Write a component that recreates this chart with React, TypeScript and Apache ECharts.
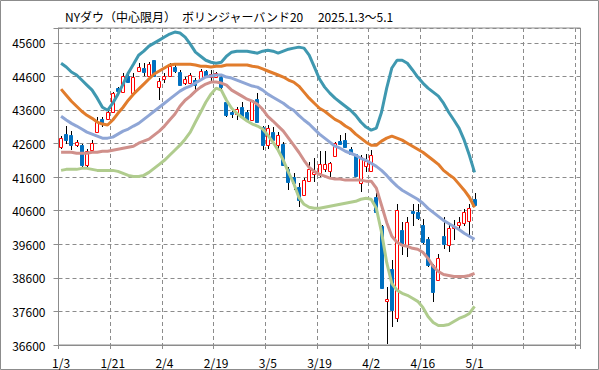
import React, { useEffect, useRef } from 'react';
import * as echarts from 'echarts';

const dates = ['1/3','1/6','1/7','1/8','1/10','1/13','1/14','1/15','1/16','1/17','1/21','1/22','1/23','1/24','1/27','1/28','1/29','1/30','1/31','2/3','2/4','2/5','2/6','2/7','2/10','2/11','2/12','2/13','2/14','2/18','2/19','2/20','2/21','2/24','2/25','2/26','2/27','2/28','3/3','3/4','3/5','3/6','3/7','3/10','3/11','3/12','3/13','3/14','3/17','3/18','3/19','3/20','3/21','3/24','3/25','3/26','3/27','3/28','3/31','4/1','4/2','4/3','4/4','4/7','4/8','4/9','4/10','4/11','4/14','4/15','4/16','4/17','4/21','4/22','4/23','4/24','4/25','4/28','4/29','4/30','5/1'];

const opens = [42510,42870,42840,42570,42550,41950,42400,42950,43320,43320,43540,44240,44140,44610,44090,44770,44840,44610,45080,44290,44510,44610,44870,44740,44410,44410,44490,44510,44760,44580,44590,44590,43840,43540,43490,43690,43540,43290,43940,43080,42550,42950,42550,42600,41850,41600,41310,41060,41490,41680,41710,41830,41780,42220,42680,42700,42450,42280,41430,41930,41780,41010,40130,37900,38870,37410,40010,39570,40590,40560,40180,39770,38970,38540,39840,39570,40070,40160,40240,40290,40940];
const closes = [42750,42700,42550,42650,41950,42370,42610,43240,43200,43540,44090,44170,44610,44440,44590,44870,44740,44960,44610,44470,44610,44910,44770,44340,44510,44640,44340,44760,44590,44670,44690,44290,43440,43490,43640,43390,43290,43890,43240,42550,43050,42700,42840,41950,41460,41410,40910,41510,41850,41740,41980,41980,42020,42620,42600,42500,42300,41630,42200,42080,42250,40560,38310,37980,37630,40630,39570,40260,40530,40390,39670,38970,38180,39200,39620,40070,40130,40260,40560,40690,40760];
const lows = [42450,42600,42400,42490,41900,41890,42340,42930,43100,43290,43530,44140,44090,44390,44040,44740,44610,44590,44590,43910,44390,44590,44710,44320,44340,44390,44110,44490,44540,44400,44550,44190,43390,43350,43290,43350,43240,43270,43210,42400,42450,42550,42400,41920,41210,41210,40710,41040,41460,41460,41600,41750,41600,42200,42580,42460,42250,41600,41160,41750,41750,40540,38280,36620,37130,37280,39270,39220,40130,40310,39620,38920,37880,38520,39470,39370,39720,40010,40130,39840,40740];
const highs = [42820,43110,42970,42700,42600,42430,42700,43380,43390,43590,44140,44290,44690,44740,44690,44990,44990,45030,45100,44540,44690,44990,45000,44790,44590,44690,44550,44810,44790,44790,44730,44600,43890,43590,43690,43840,43590,43910,44090,43120,43150,43100,42950,42650,41900,41710,41410,41570,42050,42160,42370,42370,42050,42650,42850,42900,42490,42300,42250,42300,42420,41120,40160,38320,39120,40810,40260,40410,40810,40810,40360,39820,39020,39300,40410,40190,40310,40410,40660,40810,41130];

const upper2 = [44990,44880,44730,44640,44490,44340,44190,43950,43680,43590,43800,44070,44370,44700,44960,45230,45350,45500,45590,45680,45770,45860,45920,45890,45770,45560,45320,45200,45080,45020,44990,45020,45200,45320,45350,45350,45350,45320,45290,45350,45380,45350,45290,45350,45410,45440,45470,45440,45230,44880,44520,44280,44100,43950,43830,43710,43590,43440,43240,43090,43000,43060,43530,44250,44850,45080,45080,44990,44790,44580,44400,44250,44130,44010,43800,43530,43300,43060,42700,42250,41740];
const upper1 = [44220,44040,43860,43710,43560,43440,43350,43240,43180,43150,43300,43500,43680,43890,44070,44220,44370,44520,44670,44760,44850,44940,44960,44960,44960,44960,44940,44900,44900,44880,44900,44900,44940,44940,44940,44940,44940,44900,44880,44820,44760,44700,44640,44580,44490,44430,44310,44130,43950,43800,43650,43560,43440,43320,43240,43120,43030,42880,42760,42640,42550,42550,42670,42760,42820,42760,42700,42610,42520,42430,42340,42220,42100,41980,41800,41680,41570,41390,41210,41000,40700];
const ma20 = [43410,43300,43200,43120,43030,42940,42880,42820,42760,42760,42790,42880,42970,43030,43120,43200,43320,43440,43560,43680,43800,43920,44040,44160,44250,44310,44400,44490,44580,44610,44640,44640,44580,44550,44490,44430,44370,44310,44280,44190,44070,43980,43890,43800,43680,43590,43440,43300,43180,43030,42880,42760,42640,42520,42460,42370,42310,42250,42160,42100,42010,41920,41800,41650,41480,41330,41210,41120,41030,40940,40820,40670,40550,40430,40310,40220,40130,40040,39930,39840,39750];
const lower1 = [42340,42340,42340,42310,42310,42310,42340,42340,42370,42370,42400,42430,42460,42490,42520,42610,42670,42730,42850,42970,43120,43300,43470,43710,43890,44010,44160,44280,44370,44430,44430,44400,44340,44190,44100,44010,43920,43860,43770,43620,43410,43270,43120,42970,42760,42550,42340,42100,41890,41770,41680,41630,41570,41540,41540,41510,41510,41510,41510,41480,41480,41270,40760,40250,39840,39660,39570,39540,39480,39450,39360,39180,38940,38790,38700,38670,38640,38640,38640,38670,38730];
const lower2 = [41800,41830,41830,41830,41860,41860,41830,41800,41800,41800,41800,41770,41710,41650,41620,41620,41650,41740,41860,41980,42100,42250,42400,42550,42730,42940,43240,43530,43830,44070,44250,44190,43890,43650,43500,43380,43270,43180,43120,43030,42850,42640,42400,42100,41740,41420,41000,40790,40700,40670,40670,40700,40730,40760,40790,40820,40850,40880,40940,40970,40940,40670,39960,39060,38430,38230,38140,38080,37990,37900,37720,37450,37270,37180,37180,37210,37300,37390,37450,37540,37750];

const yMin = 36600;
const yMax = 46040;
const yStep = 1000;
const totalSlots = 101;

const titleText = 'NYダウ（中心限月）　ボリンジャーバンド20　 2025.1.3～5.1';

const FONT = '"Noto Sans CJK JP", "Noto Sans", sans-serif';

export default function App() {
  const ref = useRef<HTMLDivElement>(null);
  useEffect(() => {
    const el = ref.current;
    if (!el) return;
    const chart = echarts.init(el, undefined, { renderer: 'svg' });
    const cats = Array.from({ length: totalSlots }, (_, i) => (i < dates.length ? dates[i] : ''));
    const candleData = dates.map((_, i) => [i, opens[i], closes[i], lows[i], highs[i]]);
    const lineSeries = (name: string, data: number[], color: string) => ({
      name,
      type: 'line',
      data,
      symbol: 'none',
      smooth: false,
      lineStyle: { color, width: 3 },
      z: 3,
    });
    chart.setOption({
      animation: false,
      backgroundColor: '#ffffff',
      textStyle: { fontFamily: FONT },
      graphic: [
        {
          type: 'rect',
          shape: { x: 0.5, y: 0.5, width: 598, height: 369 },
          style: { fill: 'none', stroke: '#8c8c8c', lineWidth: 1 },
          silent: true,
        },
        {
          type: 'text',
          left: 65,
          top: 10,
          style: { text: titleText, fontSize: 12, fontFamily: FONT, fill: '#000' },
        },
      ],
      grid: {
        left: 58.5,
        right: 18.5,
        top: 28,
        bottom: 25,
        show: true,
        borderColor: '#8c8c8c',
        borderWidth: 1,
        backgroundColor: 'transparent',
      },
      xAxis: {
        type: 'category',
        data: cats,
        boundaryGap: true,
        axisLine: { lineStyle: { color: '#8c8c8c' } },
        axisTick: { show: true, interval: 9, length: 4, lineStyle: { color: '#8c8c8c' } },
        axisLabel: { interval: 9, color: '#000', fontSize: 12, fontFamily: FONT, margin: 11 },
        splitLine: { show: true, interval: 9, lineStyle: { color: '#8c8c8c', type: [4, 3] } },
      },
      yAxis: {
        type: 'value',
        min: yMin,
        max: yMax,
        interval: yStep,
        axisLine: { show: true, lineStyle: { color: '#8c8c8c' } },
        axisTick: { show: true, length: 5, lineStyle: { color: '#8c8c8c' } },
        axisLabel: {
          color: '#000',
          fontSize: 12,
          fontFamily: FONT,
          margin: 13,
          formatter: (v: number) => ((v - yMin) % yStep === 0 ? String(v) : ''),
        },
        splitLine: { show: true, lineStyle: { color: '#8c8c8c', type: [4, 3] } },
      },
      series: [
        {
          type: 'custom',
          name: 'candles',
          data: candleData,
          encode: { x: 0, y: [1, 2, 3, 4] },
          z: 2,
          renderItem: (params: any, api: any) => {
            const i = api.value(0);
            const o = api.value(1);
            const c = api.value(2);
            const l = api.value(3);
            const h = api.value(4);
            const pO = api.coord([i, o]);
            const pC = api.coord([i, c]);
            const pL = api.coord([i, l]);
            const pH = api.coord([i, h]);
            const cx = Math.round(pO[0]) + 0.5;
            const up = c >= o;
            let top = Math.round(Math.min(pO[1], pC[1])) + 0.5;
            let bot = Math.round(Math.max(pO[1], pC[1])) + 0.5;
            if (bot - top < 1) bot = top + 1;
            return {
              type: 'group',
              children: [
                {
                  type: 'line',
                  shape: { x1: cx, y1: Math.round(pH[1]), x2: cx, y2: Math.round(pL[1]) },
                  style: { stroke: '#000', lineWidth: 1 },
                },
                {
                  type: 'rect',
                  shape: { x: cx - 2, y: top, width: 3, height: bot - top },
                  style: up
                    ? { fill: '#ffffff', stroke: '#ff0000', lineWidth: 1 }
                    : { fill: '#0070c0', stroke: '#0070c0', lineWidth: 1 },
                },
              ],
            };
          },
        },
        lineSeries('+2σ', upper2, '#3f98b0'),
        lineSeries('+1σ', upper1, '#e17c2c'),
        lineSeries('MA20', ma20, '#8fa6d6'),
        lineSeries('-1σ', lower1, '#d0908b'),
        lineSeries('-2σ', lower2, '#b0cc8e'),
      ],
    });
    return () => chart.dispose();
  }, []);
  return (
    <div
      ref={ref}
      style={{ position: 'fixed', left: 0, top: 0, width: 599, height: 370, background: '#fff' }}
    />
  );
}
